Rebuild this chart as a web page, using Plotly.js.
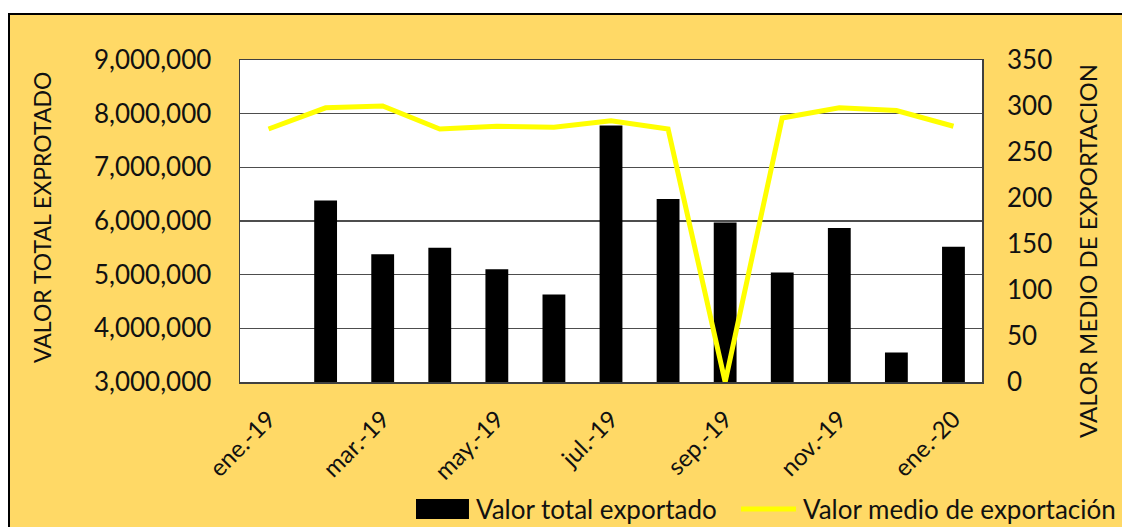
<!DOCTYPE html>
<html>
<head>
<meta charset="utf-8">
<script src="https://cdn.plot.ly/plotly-3.0.1.min.js"></script>
<style>
  html, body { margin: 0; padding: 0; background: #ffffff; width: 1122px; height: 527px; overflow: hidden; }
  #frame { position: absolute; left: 8px; top: 13px; width: 1200px; height: 600px;
           border-left: 2px solid #000; border-top: 2px solid #000; background: #FFD966; }
  #chart { position: absolute; left: 0; top: 0; width: 1112px; height: 512px; }
</style>
</head>
<body>
<div id="frame"><div id="chart"></div></div>
<script>
const months = ['ene.-19','feb.-19','mar.-19','abr.-19','may.-19','jun.-19','jul.-19','ago.-19','sep.-19','oct.-19','nov.-19','dic.-19','ene.-20'];
const tickLabels = ['ene.-19','mar.-19','may.-19','jul.-19','sep.-19','nov.-19','ene.-20'];
const totalExportado = [null, 6380000, 5380000, 5500000, 5100000, 4630000, 7780000, 6410000, 5970000, 5040000, 5870000, 3550000, 5520000];
const medioExportacion = [275, 298, 300, 275, 278, 277, 284, 275, 0, 287, 298, 295, 278];
const seriesNames = ['Valor total exportado', 'Valor medio de exportación'];
const axisTitles = ['VALOR TOTAL EXPROTADO', 'VALOR MEDIO DE EXPORTACION'];

const FONT = 'Lato, "Open Sans", sans-serif';
const TXT = '#111111';
const BAR = '#000000';
const LINE = '#FFFF00';

const traces = [
  {
    type: 'bar', name: seriesNames[0], x: months, y: totalExportado,
    marker: { color: BAR }, yaxis: 'y', base: 0
  },
  {
    type: 'scatter', mode: 'lines', name: seriesNames[1], x: months, y: medioExportacion,
    line: { color: LINE, width: 5 }, yaxis: 'y2'
  }
];

const legY = -0.3944;
const layout = {
  width: 1112, height: 512,
  margin: { l: 230, r: 140, t: 45, b: 145, autoexpand: false },
  paper_bgcolor: 'rgba(0,0,0,0)',
  plot_bgcolor: '#ffffff',
  font: { family: FONT, size: 26, color: TXT },
  bargap: 0.6,
  showlegend: false,
  xaxis: {
    type: 'category', tickmode: 'array', tickvals: tickLabels, ticktext: tickLabels,
    tickangle: -45, ticks: '', ticklabelstandoff: 12,
    showline: true, mirror: true, linecolor: '#404040', linewidth: 1.5,
    showgrid: false, zeroline: false,
    tickfont: { family: FONT, size: 24, color: TXT }
  },
  yaxis: {
    range: [3000000, 9000000], dtick: 1000000, tickformat: ',d',
    showline: true, mirror: true, linecolor: '#404040', linewidth: 1.5,
    showgrid: true, gridcolor: '#4d4d4d', gridwidth: 1.5, zeroline: false,
    ticks: '', ticklabelstandoff: 22,
    tickfont: { family: FONT, size: 26, color: TXT }
  },
  yaxis2: {
    overlaying: 'y', side: 'right', range: [0, 350], dtick: 50,
    showgrid: false, zeroline: false, showline: false, ticks: '', ticklabelstandoff: 24,
    tickfont: { family: FONT, size: 26, color: TXT }
  },
  annotations: [
    { xref: 'paper', yref: 'paper', x: -0.2668, y: 0.5093, xanchor: 'center', yanchor: 'middle',
      text: axisTitles[0], textangle: -90, showarrow: false, font: { family: FONT, size: 23, color: TXT } },
    { xref: 'paper', yref: 'paper', x: 1.1415, y: 0.4068, xanchor: 'center', yanchor: 'middle',
      text: axisTitles[1], textangle: -90, showarrow: false, font: { family: FONT, size: 24, color: TXT } },
    { xref: 'paper', yref: 'paper', x: 0.3154, y: legY, xanchor: 'left', yanchor: 'middle',
      text: seriesNames[0], showarrow: false, font: { family: FONT, size: 26, color: TXT } },
    { xref: 'paper', yref: 'paper', x: 0.7561, y: legY, xanchor: 'left', yanchor: 'middle',
      text: seriesNames[1], showarrow: false, font: { family: FONT, size: 26, color: TXT } }
  ],
  shapes: [
    { type: 'rect', xref: 'paper', yref: 'paper', x0: 0.2372, x1: 0.3086, y0: -0.3634, y1: -0.4255,
      fillcolor: BAR, line: { width: 0 } },
    { type: 'line', xref: 'paper', yref: 'paper', x0: 0.6752, x1: 0.7493, y0: legY, y1: legY,
      line: { color: LINE, width: 5 } }
  ]
};

Plotly.newPlot('chart', traces, layout, { displayModeBar: false, staticPlot: true });
</script>
</body>
</html>
